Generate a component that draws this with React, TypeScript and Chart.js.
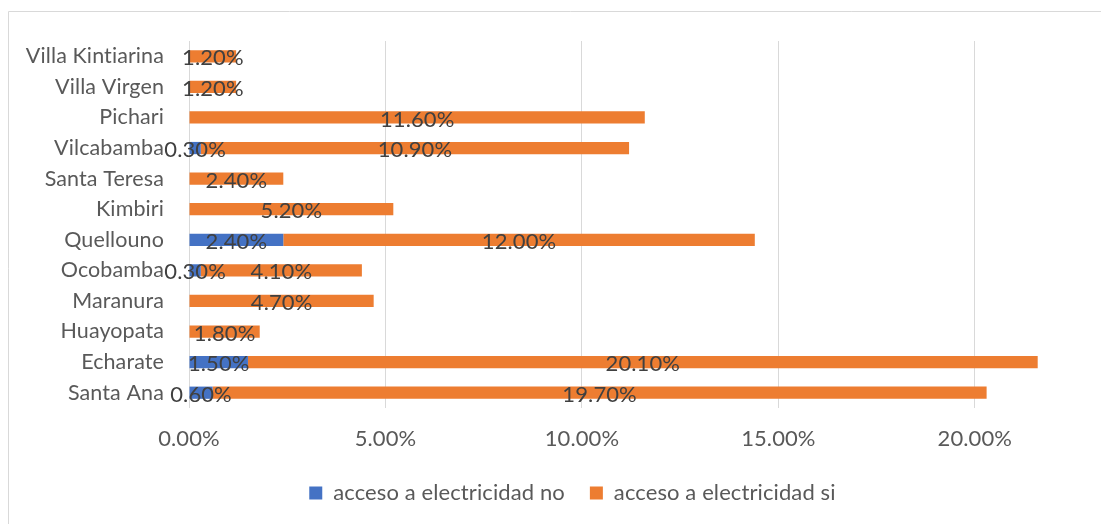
import React, { useEffect, useRef } from "react";
import { Chart, registerables } from "chart.js";

Chart.register(...registerables);

const categories = [
  "Villa Kintiarina",
  "Villa Virgen",
  "Pichari",
  "Vilcabamba",
  "Santa Teresa",
  "Kimbiri",
  "Quellouno",
  "Ocobamba",
  "Maranura",
  "Huayopata",
  "Echarate",
  "Santa Ana",
];
const accesoNo = [0, 0, 0, 0.3, 0, 0, 2.4, 0.3, 0, 0, 1.5, 0.6];
const accesoSi = [1.2, 1.2, 11.6, 10.9, 2.4, 5.2, 12.0, 4.1, 4.7, 1.8, 20.1, 19.7];
const seriesNames = ["acceso a electricidad no", "acceso a electricidad si"];
const xTicks = [0, 5, 10, 15, 20];

const FONT = "Lato";
const FS = 22;
const CANVAS_W = 1124;
const CANVAS_H = 516;

const frame = {
  id: "frame",
  beforeInit(chart: any) {
    try {
      chart.ctx.letterSpacing = "0.1px";
    } catch (e) {}
  },
  beforeDraw(chart: any) {
    const ctx = chart.ctx;
    try {
      ctx.letterSpacing = "0.1px";
    } catch (e) {}
    ctx.save();
    ctx.strokeStyle = "#d9d9d9";
    ctx.lineWidth = 1;
    ctx.beginPath();
    ctx.moveTo(0.5, CANVAS_H + 5);
    ctx.lineTo(0.5, 3.5);
    ctx.lineTo(CANVAS_W + 5, 3.5);
    ctx.stroke();
    ctx.restore();
  },
};

const dataLabels = {
  id: "dataLabels",
  afterDatasetsDraw(chart: any) {
    const ctx = chart.ctx;
    ctx.save();
    ctx.font = `${FS}px ${FONT}`;
    ctx.fillStyle = "#404040";
    ctx.textAlign = "center";
    ctx.textBaseline = "middle";
    chart.data.datasets.forEach((ds: any, di: number) => {
      const meta = chart.getDatasetMeta(di);
      meta.data.forEach((el: any, i: number) => {
        const v = ds.data[i];
        if (!v) return;
        const cx = (el.x + el.base) / 2;
        ctx.fillText(v.toFixed(2) + "%", cx, el.y + 2);
      });
    });
    ctx.restore();
  },
};

export default function App() {
  const ref = useRef<HTMLCanvasElement>(null);
  useEffect(() => {
    if (!ref.current) return;
    const chart = new Chart(ref.current, {
      type: "bar",
      data: {
        labels: categories,
        datasets: [
          {
            label: seriesNames[0],
            data: accesoNo,
            backgroundColor: "#4472C4",
            categoryPercentage: 0.4,
            barPercentage: 1,
          },
          {
            label: seriesNames[1],
            data: accesoSi,
            backgroundColor: "#ED7D31",
            categoryPercentage: 0.4,
            barPercentage: 1,
          },
        ],
      },
      options: {
        indexAxis: "y",
        responsive: false,
        animation: false,
        layout: { padding: { top: 33, left: 0, right: 0, bottom: 10 } },
        scales: {
          x: {
            stacked: true,
            min: 0,
            max: 24,
            afterBuildTicks(scale: any) {
              scale.ticks = xTicks.map((v) => ({ value: v }));
            },
            afterFit(scale: any) {
              scale.height = 49;
            },
            grid: { color: "#d9d9d9", lineWidth: 1, drawTicks: false },
            border: { display: false },
            ticks: {
              padding: 18,
              color: "#595959",
              font: { family: FONT, size: FS },
              callback: (v: any) => Number(v).toFixed(2) + "%",
            },
          },
          y: {
            stacked: true,
            afterFit(scale: any) {
              scale.width = 181;
              scale.paddingTop = 0;
              scale.paddingBottom = 0;
            },
            grid: { display: false, drawTicks: false },
            border: { display: false },
            ticks: {
              padding: 25,
              color: "#595959",
              font: { family: FONT, size: 21.5 },
            },
          },
        },
        plugins: {
          legend: {
            position: "bottom",
            labels: {
              boxWidth: 13,
              boxHeight: 13,
              padding: 25,
              color: "#595959",
              font: { family: FONT, size: FS },
            },
          },
          tooltip: { enabled: false },
        },
      },
      plugins: [frame, dataLabels],
    });
    return () => chart.destroy();
  }, []);
  return (
    <div style={{ width: 1101, height: CANVAS_H, overflow: "hidden", position: "relative" }}>
      <canvas
        ref={ref}
        width={CANVAS_W}
        height={CANVAS_H}
        style={{ display: "block", width: CANVAS_W, height: CANVAS_H }}
      />
    </div>
  );
}
